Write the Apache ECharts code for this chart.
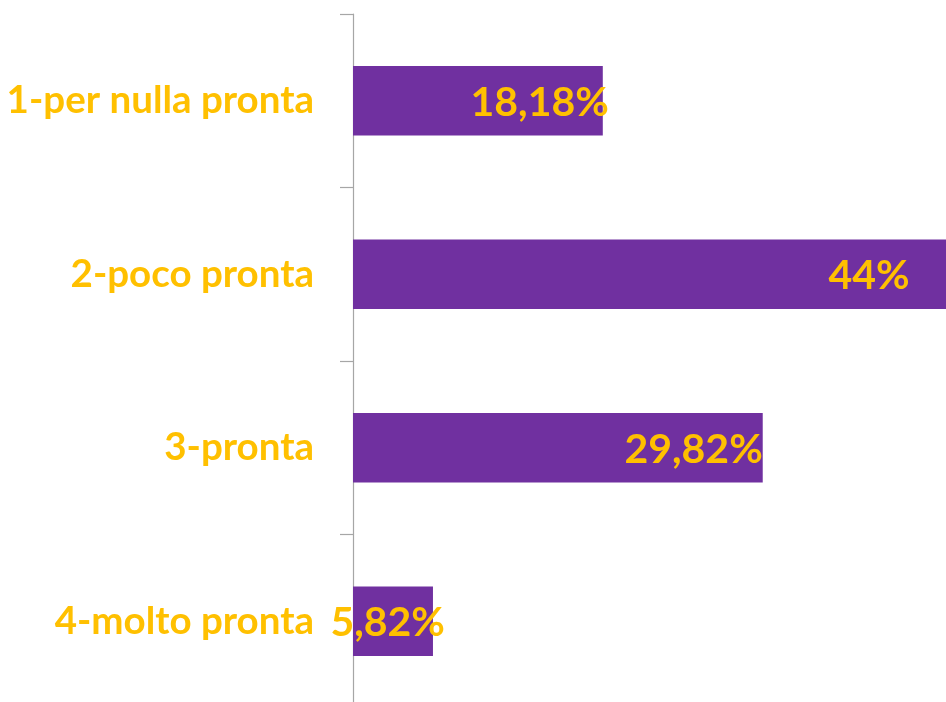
<!DOCTYPE html>
<html>
<head>
<meta charset="utf-8">
<script src="https://cdn.jsdelivr.net/npm/echarts@6/dist/echarts.min.js"></script>
<style>
	html, body { margin: 0; padding: 0; background: #fff; }
	#chart { width: 946px; height: 702px; }
</style>
</head>
<body>
<div id="chart"></div>
<script>
// categories, top to bottom
var categories = ['1-per nulla pronta', '2-poco pronta', '3-pronta', '4-molto pronta'];
// percentages
var values = [18.18, 44, 29.82, 5.82];
var valueLabels = ['18,18%', '44%', '29,82%', '5,82%'];

// label nudges (px), as in the original slide
var labelShift = [6, -48, 0, 12];

var ec = echarts.init(document.getElementById('chart'));
var option = {
	animation: false,
	grid: {
		outerBoundsMode: 'none',
		left: 353,
		top: 14,
		width: 687,
		height: 694
	},
	xAxis: {
		type: 'value',
		min: 0,
		max: 50,
		show: false
	},
	yAxis: {
		type: 'category',
		inverse: true,
		data: categories,
		axisLine: {
			show: true,
			lineStyle: { color: '#A6A6A6', width: 1.2 }
		},
		axisTick: {
			show: true,
			length: 13,
			lineStyle: { color: '#A6A6A6', width: 1.2 }
		},
		axisLabel: {
			margin: 39,
			color: '#FFC000',
			fontFamily: 'Lato',
			fontWeight: 'bold',
			fontSize: 38.5
		}
	},
	series: [
		{
			type: 'bar',
			barCategoryGap: '60%',
			itemStyle: { color: '#7030A0' },
			data: values.map(function (v, i) {
				return {
					value: v,
					label: {
						show: true,
						position: 'insideRight',
						distance: 0,
						offset: [labelShift[i], 2],
						formatter: valueLabels[i],
						color: '#FFC000',
						fontFamily: 'Lato',
						fontWeight: 'bold',
						fontSize: 41
					}
				};
			})
		}
	]
};
ec.setOption(option);
</script>
</body>
</html>
